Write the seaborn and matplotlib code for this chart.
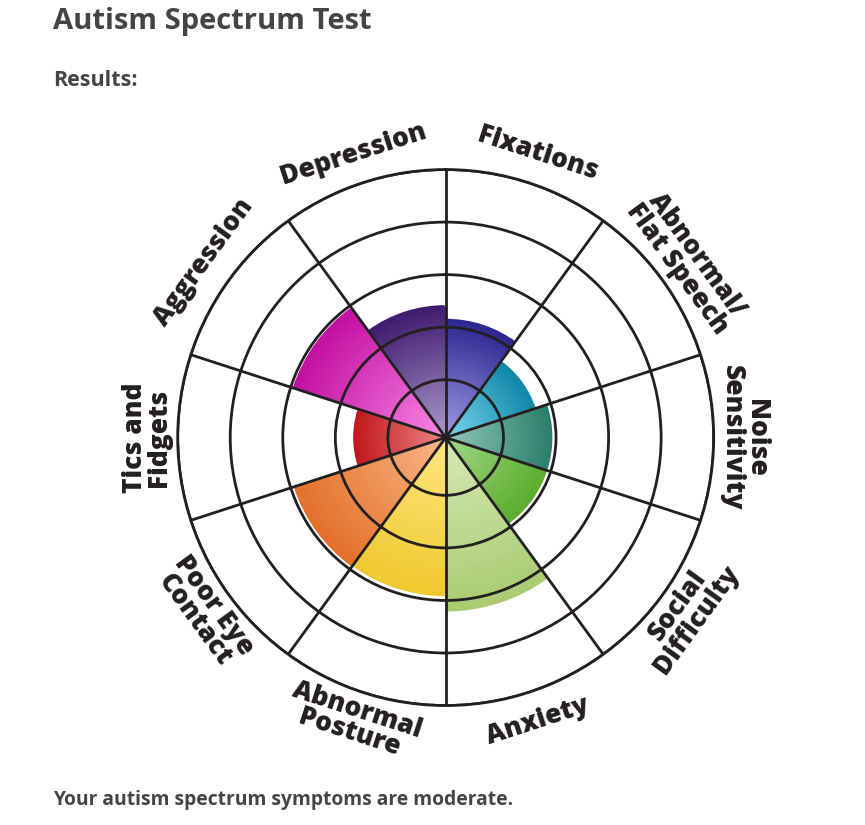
import numpy as np
import matplotlib
matplotlib.use("Agg")
import matplotlib.pyplot as plt
import seaborn as sns
from matplotlib.colors import to_rgb

# ---- data ----
categories = ["Fixations", "Abnormal/\nFlat Speech", "Noise\nSensitivity",
              "Social\nDifficulty", "Anxiety", "Abnormal\nPosture",
              "Poor Eye\nContact", "Tics and\nFidgets", "Aggression", "Depression"]
scores = [2.18, 1.72, 1.95, 1.95, 3.23, 2.94, 2.96, 1.68, 2.98, 2.44]
ring_levels = [1, 2, 3, 4, 5]
title_text = "Autism Spectrum Test"
subtitle_text = "Results:"
summary_text = "Your autism spectrum symptoms are moderate."

# ---- styles ----
outer_colors = ["#2b2790", "#0f86a8", "#2a7e6a", "#5aad2c", "#a9cc72",
                "#f0c92e", "#e4702a", "#c0161b", "#c20fa2", "#3f1b6e"]
inner_colors = ["#a29ee6", "#7dd8ee", "#93cabb", "#a4d88a", "#d7e9b6",
                "#fde784", "#f9b888", "#ee8a8a", "#fa8ae6", "#ad9ccc"]

sns.set_style("white")
plt.rcParams["font.family"] = ["Open Sans", "DejaVu Sans"]

fig = plt.figure(figsize=(8.65, 8.25), dpi=100)
ax = fig.add_axes([0.2054, 0.1448, 0.6197, 0.6497], projection="polar")
ax.set_theta_zero_location("N")
ax.set_theta_direction(-1)

r0 = -0.1
n = len(categories)
width = 2 * np.pi / n
theta = np.arange(n) * width + width / 2
steps = 50
for i in range(n):
    oc = np.array(to_rgb(outer_colors[i]))
    ic = np.array(to_rgb(inner_colors[i]))
    for k in range(steps):
        f = 1 - k / steps
        col = ic + (oc - ic) * f
        ax.bar(theta[i], (scores[i] - r0) * f, width=width, bottom=r0, color=col,
               edgecolor="white" if k == 0 else "none",
               linewidth=1.5 if k == 0 else 0, zorder=1)

ax.set_ylim(r0, 5)
ax.set_yticks(ring_levels)
ax.set_yticklabels([])
ax.set_xticks(np.arange(n) * width)
ax.set_xticklabels([])
ax.tick_params(length=0)
ax.grid(True, color="#231f20", linewidth=2)
ax.set_axisbelow(False)
ax.spines["polar"].set_color("#231f20")
ax.spines["polar"].set_linewidth(2)
ax.set_facecolor("white")

for i, lab in enumerate(categories):
    a = np.degrees(theta[i])
    rot = 180 - a if 90 < a < 270 else -a
    ax.text(theta[i], 5.58, lab, rotation=rot, rotation_mode="anchor",
            ha="center", va="center", fontsize=19, fontweight="heavy",
            color="#231f20", linespacing=0.92, clip_on=False)

fig.text(53 / 865, 1 - 22 / 825, title_text, fontsize=21, fontweight="bold",
         color="#444444", va="center", ha="left")
fig.text(53 / 865, 1 - 80 / 825, subtitle_text, fontsize=15.5, fontweight="bold",
         color="#444444", va="center", ha="left")
fig.text(53 / 865, 1 - 800 / 825, summary_text, fontsize=13.9, fontweight="bold",
         color="#444444", va="center", ha="left")

fig.savefig("out.png", dpi=100, facecolor="white")
